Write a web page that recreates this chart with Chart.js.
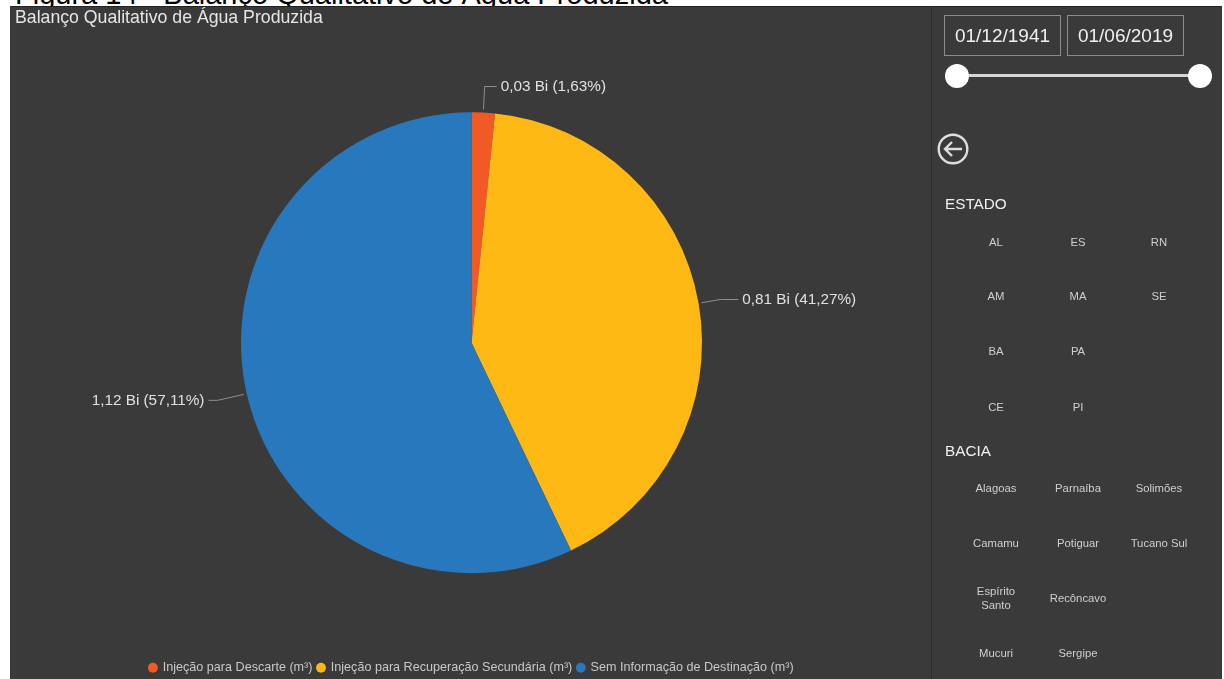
<!DOCTYPE html>
<html lang="pt-BR">
<head>
<meta charset="utf-8">
<title>Balanço Qualitativo de Água Produzida</title>
<script src="https://cdn.jsdelivr.net/npm/chart.js@4"></script>
<style>
  html, body { margin: 0; padding: 0; background: #fff; overflow: hidden; }
  body { width: 1224px; height: 679px; position: relative; font-family: "Liberation Sans", Arial, sans-serif; }
  .caption { position: absolute; left: 15px; top: -19px; font-size: 29px; line-height: 26px; color: #000; white-space: nowrap; }
  .painel { position: absolute; left: 10px; top: 6px; width: 1212px; height: 673px; background: #3a3a3a; border-top: 1px solid #222; box-sizing: border-box; }
  .titulo { position: absolute; left: 15px; top: 8px; font-size: 17.7px; line-height: 18px; color: #e6e6e6; white-space: nowrap; }
  #grafico { position: absolute; left: 10px; top: 6px; }
  .lateral { position: absolute; left: 931px; top: 6px; width: 291px; height: 673px; border-left: 1px solid #2b2b2b; box-sizing: border-box; }
  .data { position: absolute; top: 9px; height: 41px; line-height: 39px; box-sizing: border-box; border: 1px solid #8c8c8c; color: #f0f0f0; font-size: 19px; text-align: center; }
  .trilho { position: absolute; left: 25px; top: 68px; width: 243px; height: 3px; background: #d6d6d6; }
  .alca { position: absolute; top: 58px; width: 24px; height: 24px; border-radius: 50%; background: #fff; }
  .voltar { position: absolute; left: 5px; top: 127px; }
  .secao { position: absolute; left: 13px; font-size: 15.3px; line-height: 18px; color: #f0f0f0; }
  .item { position: absolute; width: 60px; transform: translate(-50%, -50%); text-align: center; font-size: 11.3px; line-height: 14px; color: #cfcfcf; }
  .item.largo { width: 76px; }
</style>
</head>
<body>
<div class="caption">Figura 14 - Balanço Qualitativo de Água Produzida</div>
<div class="painel"></div>
<canvas id="grafico" width="923" height="678"></canvas>
<div class="titulo">Balanço Qualitativo de Água Produzida</div>
<div class="lateral" id="lateral">
  <div class="data" style="left:12px;width:117px">01/12/1941</div>
  <div class="data" style="left:135px;width:117px">01/06/2019</div>
  <div class="trilho"></div>
  <div class="alca" style="left:13px"></div>
  <div class="alca" style="left:256px"></div>
  <svg class="voltar" width="32" height="32" viewBox="0 0 32 32" fill="none" stroke="#dedede" stroke-width="2.4">
    <circle cx="16" cy="16" r="14.3"/>
    <path d="M25 16H8M15 9l-7 7 7 7"/>
  </svg>
  <div class="secao" style="top:189px">ESTADO</div>
  <div class="secao" style="top:436px">BACIA</div>
</div>
<script>
const categorias = ['Injeção para Descarte (m³)', 'Injeção para Recuperação Secundária (m³)', 'Sem Informação de Destinação (m³)'];
const percentuais = [1.63, 41.27, 57.11];
const rotulos = ['0,03 Bi (1,63%)', '0,81 Bi (41,27%)', '1,12 Bi (57,11%)'];
const cores = ['#f15a24', '#fdb813', '#2878bd'];
const estados = [['AL', 'ES', 'RN'], ['AM', 'MA', 'SE'], ['BA', 'PA', ''], ['CE', 'PI', '']];
const bacias = [['Alagoas', 'Parnaíba', 'Solimões'], ['Camamu', 'Potiguar', 'Tucano Sul'], ['Espírito Santo', 'Recôncavo', ''], ['Mucuri', 'Sergipe', '']];

// filtros da lateral
const lateral = document.getElementById('lateral');
const colunas = [64, 146, 227];
function montaGrade(linhas, tops) {
    linhas.forEach((linha, i) => {
        linha.forEach((nome, j) => {
            if (!nome) return;
            const el = document.createElement('div');
            el.className = nome === 'Espírito Santo' ? 'item' : 'item largo';
            el.textContent = nome;
            el.style.left = colunas[j] + 'px';
            el.style.top = tops[i] + 'px';
            lateral.appendChild(el);
        });
    });
}
montaGrade(estados, [236, 290, 345, 401]);
montaGrade(bacias, [482, 537, 592, 647]);

// linhas de chamada e rótulos de cada fatia
const cotovelo = [26, 22, 30];
const trecho = [12, 18, 9];
const chamadas = {
    id: 'chamadas',
    afterDatasetsDraw(chart) {
        const ctx = chart.ctx;
        chart.getDatasetMeta(0).data.forEach((arc, i) => {
            const { x, y, outerRadius, startAngle, endAngle } = arc.getProps(['x', 'y', 'outerRadius', 'startAngle', 'endAngle'], true);
            const meio = (startAngle + endAngle) / 2;
            const cos = Math.cos(meio), sin = Math.sin(meio);
            const lado = cos >= 0 ? 1 : -1;
            const ini = outerRadius + 3;
            const cot = outerRadius + cotovelo[i];
            const ex = x + cos * cot, ey = y + sin * cot;
            ctx.save();
            ctx.strokeStyle = '#8f8f8f';
            ctx.lineWidth = 1;
            ctx.beginPath();
            ctx.moveTo(x + cos * ini, y + sin * ini);
            ctx.lineTo(ex, ey);
            ctx.lineTo(ex + lado * trecho[i], ey);
            ctx.stroke();
            ctx.fillStyle = '#e0e0e0';
            ctx.font = '15.3px "Liberation Sans", Arial, sans-serif';
            ctx.textBaseline = 'middle';
            ctx.textAlign = lado > 0 ? 'left' : 'right';
            ctx.fillText(rotulos[i], ex + lado * (trecho[i] + 4), ey);
            ctx.restore();
        });
    }
};

new Chart(document.getElementById('grafico'), {
    type: 'pie',
    data: {
        labels: categorias,
        datasets: [{
            data: percentuais,
            backgroundColor: cores,
            borderWidth: 0,
            radius: 230.5
        }]
    },
    options: {
        responsive: false,
        animation: false,
        layout: { padding: { top: 23, bottom: 0 } },
        plugins: {
            tooltip: { enabled: false },
            legend: {
                position: 'bottom',
                labels: {
                    color: '#c8c8c8',
                    font: { size: 12.6, family: '"Liberation Sans", Arial, sans-serif' },
                    usePointStyle: true,
                    pointStyle: 'circle',
                    boxWidth: 7,
                    boxHeight: 7,
                    padding: 5
                }
            }
        }
    },
    plugins: [chamadas]
});
</script>
</body>
</html>
